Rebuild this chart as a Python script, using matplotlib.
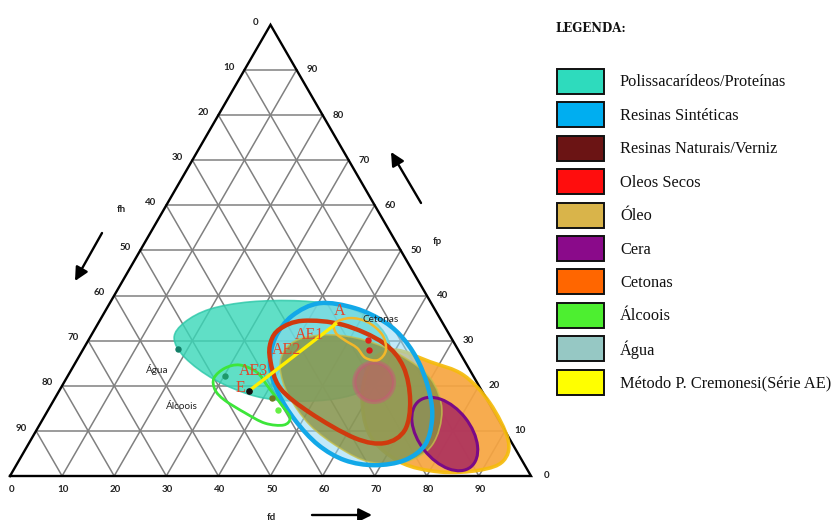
import numpy as np
import matplotlib
matplotlib.use("Agg")
import matplotlib.pyplot as plt
from matplotlib.path import Path
from matplotlib.patches import PathPatch, Ellipse, Circle, Rectangle

H = np.sqrt(3) / 2

# ---- solvent / material regions, outlines given as (fd, fp) pairs ----
polissacarideos = [(16.2, 30.6), (16.5, 34.1), (19.9, 37.0), (26.8, 38.6), (36.3, 38.8),
                   (45.6, 37.5), (53.0, 34.1), (58.4, 29.0), (60.5, 23.0), (58.6, 19.1),
                   (53.9, 17.1), (46.4, 16.6), (38.2, 17.7), (28.7, 21.3), (20.5, 26.2)]
resinas_sinteticas = [(40.3, 38.3), (47.6, 37.2), (54.9, 34.1), (60.7, 30.1), (66.4, 24.6),
                      (71.6, 18.0), (74.8, 12.4), (76.2, 6.9), (74.0, 3.5), (68.8, 2.4),
                      (62.5, 3.5), (55.7, 6.9), (48.5, 12.4), (42.1, 18.6), (37.6, 24.6),
                      (35.6, 30.6), (36.4, 35.5)]
oleos_secos = [(35.5, 32.6), (39.0, 34.4), (47.2, 33.5), (56.9, 29.5), (63.4, 24.2),
               (68.4, 16.8), (70.7, 10.2), (68.3, 7.3), (62.0, 8.4), (50.6, 14.0),
               (42.1, 19.5), (37.1, 25.7), (35.2, 29.7)]
oleo = [(38.8, 27.9), (40.5, 30.4), (45.8, 31.3), (53.1, 30.1), (61.5, 26.8), (69.8, 21.7),
        (75.6, 14.6), (77.6, 6.9), (74.3, 3.1), (67.5, 3.1), (60.2, 6.2), (51.9, 11.3),
        (44.4, 18.0), (39.9, 23.9)]
cetonas_grande = [(59.9, 27.9), (68.0, 25.3), (75.8, 22.4), (84.0, 16.2), (91.6, 8.0),
                  (93.0, 3.3), (89.5, 1.3), (82.1, 0.9), (73.3, 3.1), (64.5, 9.1),
                  (58.6, 18.0), (56.8, 25.3)]
cetonas = [(45.4, 33.9), (47.8, 35.0), (51.6, 34.1), (55.8, 31.3), (58.2, 27.9), (57.8, 25.7),
           (55.1, 26.2), (52.4, 28.4), (49.2, 30.1), (46.7, 31.7)]
alcoois = [(28.3, 21.7), (29.3, 23.9), (31.8, 24.6), (35.9, 23.0), (39.5, 19.9), (44.3, 15.7),
           (47.3, 12.9), (46.9, 11.3), (43.1, 11.7), (38.1, 14.0), (32.8, 16.8), (29.8, 19.1)]

# Cera ellipse: centre (fd, fp), axes lengths and tilt
cera_centro = (78.8, 9.3)
cera_eixos = (16.1, 10.0)
cera_angulo = -52
# Resinas naturais: circle centre (fd, fp) and radius
resinas_naturais_centro = (59.5, 20.8)
resinas_naturais_raio = 3.8

# Reference solvent points (fd, fp)
pontos_fd = [18.2, 30.2, 41.6, 44.1, 53.6, 54.9]
pontos_fp = [28.1, 22.2, 17.3, 14.6, 30.1, 27.9]
pontos_cor = ["#127f68", "#1e9a6a", "#6f7a22", "#66f044", "#e0201a", "#d81818"]

# Cremonesi series (A -> E)
serie_rotulos = ["A", "AE1", "AE2", "AE3", "E"]
serie_rot_fd = [45.0, 41.9, 39.2, 35.0, 34.4]
serie_rot_fp = [36.6, 31.3, 27.9, 23.3, 19.5]
linha_fd = [45.8, 36.4]
linha_fp = [33.9, 18.8]

# region name annotations
nomes = ["Água", "Álcoois", "Cetonas"]
nomes_fd = [16.5, 25.4, 53.9]
nomes_fp = [23.5, 15.3, 34.6]

ticks = list(range(0, 100, 10))

legenda_rotulos = ["Polissacarídeos/Proteínas", "Resinas Sintéticas", "Resinas Naturais/Verniz",
                   "Oleos Secos", "Óleo", "Cera", "Cetonas", "Álcoois", "Água",
                   "Método P. Cremonesi(Série AE)"]
legenda_cores = ["#2edbbd", "#00aef0", "#6b1414", "#ff0d0d", "#d9b44a", "#8a0a8a",
                 "#ff6600", "#4def30", "#96c8c4", "#ffff00"]


def tern(fd, fp):
    return fd + fp / 2.0, fp * H


def smooth_closed(points):
    P = np.array([tern(*p) for p in points])
    n = len(P)
    verts = [P[0]]
    codes = [Path.MOVETO]
    for i in range(n):
        p0, p1, p2, p3 = P[i - 1], P[i], P[(i + 1) % n], P[(i + 2) % n]
        verts += [p1 + (p2 - p0) / 6.0, p2 - (p3 - p1) / 6.0, p2]
        codes += [Path.CURVE4] * 3
    verts.append(P[0])
    codes.append(Path.CLOSEPOLY)
    return Path(verts, codes)


fig = plt.figure(figsize=(8.4, 5.2), dpi=100)
fig.patch.set_facecolor("white")

# ternary axes: one data unit = 5.21 px, base from x=10 px to 531 px at y=476 px
ax = fig.add_axes([0, 0, 1, 1])
ax.set_xlim(-10 / 5.21, 830 / 5.21)
ax.set_ylim(-44 / 5.21, 476 / 5.21)
ax.axis("off")

# grid
gkw = dict(color="#808080", lw=1.1, zorder=1)
for v in range(10, 100, 10):
    a = tern(0, v); b = tern(100 - v, v)
    ax.plot([a[0], b[0]], [a[1], b[1]], **gkw)
    a = tern(v, 0); b = tern(v, 100 - v)
    ax.plot([a[0], b[0]], [a[1], b[1]], **gkw)
    a = tern(100 - v, 0); b = tern(0, 100 - v)
    ax.plot([a[0], b[0]], [a[1], b[1]], **gkw)
tri = np.array([tern(0, 0), tern(100, 0), tern(0, 100), tern(0, 0)])
ax.plot(tri[:, 0], tri[:, 1], color="black", lw=1.7, zorder=2, solid_joinstyle="miter")

# tick labels
tkw = dict(fontsize=7, family="Lato", fontweight="bold", color="#222222",
           textcoords="offset points", ha="center", va="center")
for v in ticks:
    ax.annotate(str(v), tern(0, 100 - v), xytext=(-11, 2), **tkw)
    ax.annotate(str(v), tern(100 - v, v), xytext=(11, 0), **tkw)
    ax.annotate(str(v), tern(v, 0), xytext=(1, -10), **tkw)

# regions
ax.add_patch(PathPatch(smooth_closed(polissacarideos), facecolor="#38d8b8", alpha=0.8,
                       edgecolor="#2cc7a8", lw=1.2, zorder=3))
ax.add_patch(PathPatch(smooth_closed(cetonas_grande), facecolor="#f7a540", alpha=0.92,
                       edgecolor="#f5bb0c", lw=2.6, zorder=3))
ax.add_patch(Ellipse(tern(*cera_centro), cera_eixos[0], cera_eixos[1], angle=cera_angulo,
                     facecolor="#a8285f", alpha=0.85, edgecolor="none", zorder=4))
ax.add_patch(Ellipse(tern(*cera_centro), cera_eixos[0], cera_eixos[1], angle=cera_angulo,
                     facecolor="none", edgecolor="#7a0a86", lw=2.2, zorder=7))
ax.add_patch(PathPatch(smooth_closed(resinas_sinteticas), facecolor="#8fd8f5", alpha=0.55,
                       edgecolor="none", zorder=5))
ax.add_patch(PathPatch(smooth_closed(oleo), facecolor="#8a9040", alpha=0.8,
                       edgecolor="#c4bf4c", lw=1.2, zorder=6))
ax.add_patch(PathPatch(smooth_closed(resinas_sinteticas), facecolor="none",
                       edgecolor="#12a8e8", lw=3.2, zorder=8))
ax.add_patch(PathPatch(smooth_closed(oleos_secos), facecolor="none",
                       edgecolor="#d03a0e", lw=3.2, zorder=8))
ax.add_patch(Circle(tern(*resinas_naturais_centro), resinas_naturais_raio,
                    facecolor="#c4506a", alpha=0.5, edgecolor="#c85a78", lw=3, zorder=8))
ax.add_patch(PathPatch(smooth_closed(cetonas), facecolor="none",
                       edgecolor="#f2b82a", lw=1.8, zorder=8))
ax.add_patch(PathPatch(smooth_closed(alcoois), facecolor="none",
                       edgecolor="#3de63a", lw=2.0, zorder=8))

# points
for fd, fp, c in zip(pontos_fd, pontos_fp, pontos_cor):
    x, y = tern(fd, fp)
    ax.plot(x, y, "o", ms=3.6, color=c, zorder=9)

# Cremonesi series line
lx, ly = tern(np.array(linha_fd), np.array(linha_fp))
ax.plot(lx, ly, color="#ffee00", lw=2.4, zorder=10, solid_capstyle="butt")
ex, ey = tern(linha_fd[-1], linha_fp[-1])
ax.plot(ex, ey, "o", ms=3.8, color="#111111", zorder=11)
for lab, fd, fp in zip(serie_rotulos, serie_rot_fd, serie_rot_fp):
    x, y = tern(fd, fp)
    ax.text(x, y, lab, fontsize=11.5, family="Liberation Serif", color="#e2452a",
            ha="center", va="center", zorder=12)

for nome, fd, fp in zip(nomes, nomes_fd, nomes_fp):
    x, y = tern(fd, fp)
    ax.text(x, y, nome, fontsize=7.2, family="Lato", color="#222222",
            ha="center", va="center", zorder=12)

# overlay in pixel coordinates: axis names, arrows, legend
ov = fig.add_axes([0, 0, 1, 1], facecolor="none")
ov.set_xlim(0, 840)
ov.set_ylim(520, 0)
ov.axis("off")
akw = dict(arrowstyle="-|>,head_length=0.8,head_width=0.4", color="black", lw=1.7,
           shrinkA=0, shrinkB=0)
ov.annotate("", xy=(75, 281), xytext=(102, 233), arrowprops=akw)
ov.annotate("", xy=(391, 152), xytext=(421, 203), arrowprops=akw)
ov.annotate("", xy=(372, 515), xytext=(312, 515), arrowprops=akw)
for txt, x, y in [("fh", 121, 210), ("fp", 437, 242), ("fd", 271, 517)]:
    ov.text(x, y, txt, fontsize=7, family="Lato", fontweight="bold", color="#222222",
            ha="center", va="center")

ov.text(555, 29, "LEGENDA:", fontsize=8.5, family="DejaVu Serif", fontweight="bold",
        ha="left", va="center", color="#111111")
for i, (lab, cor) in enumerate(zip(legenda_rotulos, legenda_cores)):
    y0 = 69 + 33.4 * i
    ov.add_patch(Rectangle((557, y0), 47, 25, facecolor=cor, edgecolor="#111111", lw=1.4))
    ov.text(620, y0 + 13.5, lab, fontsize=11.8, family="Liberation Serif", color="#111111",
            ha="left", va="center")

fig.savefig("out.png", dpi=100, facecolor="white")
